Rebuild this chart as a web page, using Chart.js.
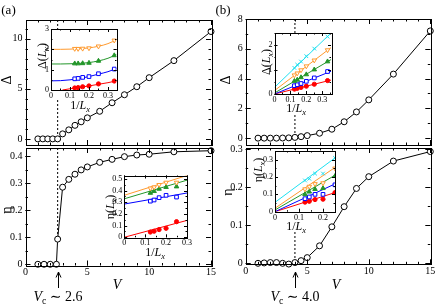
<!DOCTYPE html>
<html>
<head>
<meta charset="utf-8">
<script src="https://cdn.jsdelivr.net/npm/chart.js@4.4.1/dist/chart.umd.min.js"></script>
<style>
  html, body { margin: 0; padding: 0; background: #fff; }
  #fig { position: relative; width: 436px; height: 305px; overflow: hidden; background: #fff; }
  #fig canvas { position: absolute; }
  .lb { position: absolute; font-family: "Liberation Serif", "DejaVu Serif", serif; color: #000; line-height: 1; white-space: nowrap; transform: translate(-50%, -50%); }
  .lb.rot { transform: translate(-50%, -50%) rotate(-90deg); }
  .lb.bg { background: #fff; padding: 0 1px; }
  .lb sub { font-size: 70%; vertical-align: -0.3em; line-height: 0; }
</style>
</head>
<body>
<div id="fig"></div>
<script>
// ---- panel (a), V_c ~ 2.6 ----
const aDeltaV = [1, 1.4, 1.8, 2.2, 2.6, 3, 3.5, 4, 4.5, 5, 6, 7, 8, 9, 10, 12, 15];
const aDelta  = [0, 0, 0, 0, 0, 0.5, 0.9, 1.35, 1.7, 2.1, 2.75, 3.6, 4.4, 5.2, 6.1, 7.8, 10.7];
const aEtaV   = [1, 1.5, 2, 2.5, 2.6, 3, 3.5, 4, 4.5, 5, 6, 7, 8, 9, 10, 12, 15];
const aEta    = [0, 0, 0, 0, 0.093, 0.285, 0.314, 0.333, 0.349, 0.36, 0.377, 0.388, 0.398, 0.404, 0.407, 0.416, 0.42];
const vcA = 2.6;

// ---- panel (b), V_c ~ 4.0 ----
const bV     = [1, 1.5, 2, 2.5, 3, 3.5, 4, 4.5, 5, 6, 7, 8, 9, 10, 12, 15];
const bDelta = [0, 0, 0, 0, 0.01, 0.02, 0.05, 0.1, 0.17, 0.33, 0.6, 1.1, 1.76, 2.57, 4.3, 7.2];
const bEta   = [0, 0.001, 0.002, 0.002, 0, -0.002, 0.002, 0.007, 0.015, 0.046, 0.096, 0.149, 0.197, 0.228, 0.269, 0.294];
const vcB = 4.0;

// ---- insets, x = 1/L_x ----
const invL6 = [0.125, 0.1429, 0.1667, 0.2, 0.25, 0.3333];
const invL5 = [0.125, 0.1429, 0.1667, 0.2, 0.25];

// (a) Delta(L_x)
const aInDOrange = [2.03, 2.03, 2.04, 2.06, 2.15, 2.44];
const aInDGreen  = [1.3, 1.3, 1.31, 1.33, 1.43, 1.7];
const aInDBlue   = [0.55, 0.57, 0.62, 0.66, 0.8, 1.03];
const aInDRed    = [0.1, 0.12, 0.16, 0.2, 0.3, 0.44];
const aFitX      = [0, 0.05, 0.1, 0.15, 0.2, 0.25, 0.3, 0.345];
const aFitOrange = [2.0, 2.0, 2.01, 2.03, 2.07, 2.15, 2.28, 2.47];
const aFitGreen  = [1.28, 1.28, 1.29, 1.31, 1.35, 1.43, 1.56, 1.74];
const aFitBlue   = [0.45, 0.46, 0.5, 0.57, 0.66, 0.78, 0.9, 1.06];
const aFitRedX   = [0.06, 0.1, 0.15, 0.2, 0.25, 0.3, 0.345];
const aFitRed    = [0, 0.06, 0.13, 0.2, 0.28, 0.36, 0.45];

// (a) eta(L_x)
const aInEOrange = [0.42, 0.43, 0.45, 0.47, 0.47];
const aInEGreen  = [0.38, 0.395, 0.415, 0.43, 0.435];
const aInEBlue   = [0.31, 0.32, 0.34, 0.36, 0.345];
const aInERed    = [0.045, 0.052, 0.066, 0.077, 0.134];
const aLineEX    = [0, 0.3];
const aLineEOrange = [0.36, 0.53];
const aLineEGreen  = [0.33, 0.49];
const aLineEBlue   = [0.285, 0.38];
const aLineERed    = [0, 0.145];

// (b) Delta(L_x)
const bInDCyan   = [1.07, 1.2, 1.33, 1.55, 1.86, 2.35];
const bInDOrange = [0.77, 0.85, 0.98, 1.14, 1.38, 1.8];
const bInDGreen  = [0.53, 0.58, 0.68, 0.8, 1.0, 1.33];
const bInDBlue   = [0.34, 0.38, 0.43, 0.52, 0.66, 0.92];
const bInDRed    = [0.2, 0.23, 0.27, 0.32, 0.4, 0.55];
const bLineDX      = [0, 0.355];
const bLineDCyan   = [0.27, 2.5];
const bLineDOrange = [0.14, 1.9];
const bLineDGreen  = [0.04, 1.41];
const bLineDBlue   = [0, 0.93];
const bLineDRed    = [0, 0.57];

// (b) eta(L_x)
const bInECyan   = [0.18, 0.19, 0.22, 0.22, 0.31];
const bInEOrange = [0.13, 0.145, 0.16, 0.165, 0.25];
const bInEGreen  = [0.1, 0.115, 0.13, 0.135, 0.205];
const bInEBlue   = [0.075, 0.085, 0.1, 0.1, 0.155];
const bInERed    = [0.055, 0.06, 0.07, 0.072, 0.11];
const bLineEX      = [0, 0.25];
const bLineECyan   = [0.054, 0.31];
const bLineEOrange = [0.02, 0.255];
const bLineEGreen  = [0.01, 0.21];
const bLineEBlue   = [0, 0.16];
const bLineERed    = [0, 0.11];

// tick labels
const vTicks = [0, 5, 10, 15];
const aDeltaTicks = [0, 5, 10];
const aEtaTicks = [0, 0.1, 0.2, 0.3, 0.4];
const bDeltaTicks = [0, 2, 4, 6, 8];
const bEtaTicks = [0, 0.1, 0.2, 0.3];
const inXTicks = [0, 0.1, 0.2, 0.3];
const inXTicksShort = [0, 0.1, 0.2];
const aInDTicks = [0, 1, 2, 3];
const aInETicks = [0, 0.1, 0.2, 0.3, 0.4, 0.5];
const bInDTicks = [0, 1, 2];
const bInETicks = [0, 0.1, 0.2, 0.3];

const SERIF = '"Liberation Serif", "DejaVu Serif", serif';
const ORANGE = '#ff9a2e', GREEN = '#23962a', BLUE = '#0000ff', RED = '#ff0000', CYAN = '#1fe0f0';
const fig = document.getElementById('fig');

// closed frame with inward major/minor ticks on all four sides
const frameTicks = {
  id: 'frameTicks',
  beforeDraw(chart, args, o) {
    if (!o.bg) return;
    const a = chart.chartArea, ctx = chart.ctx;
    ctx.save();
    ctx.fillStyle = '#fff';
    ctx.fillRect(a.left, a.top, a.right - a.left, a.bottom - a.top + o.bg);
    ctx.restore();
  },
  afterDraw(chart, args, o) {
    const {ctx, chartArea: a} = chart;
    const {x, y} = chart.scales;
    ctx.save();
    ctx.strokeStyle = '#000';
    ctx.lineWidth = 1;
    ctx.beginPath();
    const marks = (sc, step, len, horiz) => {
      const n0 = Math.ceil(sc.min / step - 1e-6), n1 = Math.floor(sc.max / step + 1e-6);
      for (let i = n0; i <= n1; i++) {
        const p = Math.round(sc.getPixelForValue(i * step)) + 0.5;
        if (horiz) {
          ctx.moveTo(p, a.bottom); ctx.lineTo(p, a.bottom - len);
          ctx.moveTo(p, a.top); ctx.lineTo(p, a.top + len);
        } else {
          ctx.moveTo(a.left, p); ctx.lineTo(a.left + len, p);
          ctx.moveTo(a.right, p); ctx.lineTo(a.right - len, p);
        }
      }
    };
    marks(x, o.x[0], o.len, true);
    marks(x, o.x[1], o.len / 2, true);
    marks(y, o.y[0], o.len, false);
    marks(y, o.y[1], o.len / 2, false);
    ctx.stroke();
    ctx.strokeRect(Math.round(a.left) + 0.5, Math.round(a.top) + 0.5,
                   Math.round(a.right - a.left), Math.round(a.bottom - a.top));
    ctx.restore();
  }
};

const pts = (xs, ys) => xs.map((x, i) => ({x, y: ys[i]}));
const series = (xs, ys) => ({
  data: pts(xs, ys), showLine: true, borderColor: '#000', borderWidth: 1, clip: false,
  pointRadius: 3, pointBorderWidth: 1, pointBackgroundColor: '#fff', pointBorderColor: '#000'
});
const vline = (x, y0, y1) => ({
  data: [{x, y: y0}, {x, y: y1}], showLine: true, borderColor: '#000', borderWidth: 1,
  borderDash: [2, 2], pointRadius: 0
});
const fit = (xs, ys, col) => ({
  data: pts(xs, ys), showLine: true, borderColor: col, borderWidth: 1, pointRadius: 0,
  cubicInterpolationMode: 'monotone'
});
const sym = (xs, ys, col, style, open) => ({
  data: pts(xs, ys), showLine: false, pointStyle: style, pointRotation: open && style === 'triangle' ? 180 : 0,
  pointRadius: style === 'circle' ? 2.1 : 2.6, pointBorderWidth: 1, pointBorderColor: col,
  pointBackgroundColor: open ? '#fff' : col
});

// box = [x, y, w, h] of the canvas, area = [left, top, right, bottom] of the plot frame (page px)
function panel(box, area, cfg) {
  const c = document.createElement('canvas');
  c.width = box[2]; c.height = box[3];
  c.style.left = box[0] + 'px'; c.style.top = box[1] + 'px';
  fig.appendChild(c);
  const showX = !!cfg.xTicks;
  const fs = cfg.font || 10;
  const tickFont = {family: SERIF, size: fs};
  return new Chart(c, {
    type: 'scatter',
    data: {datasets: cfg.datasets},
    options: {
      responsive: false, animation: false, events: [],
      layout: {padding: {
        left: 0, top: area[1] - box[1], right: box[0] + box[2] - area[2],
        bottom: showX ? 0 : box[1] + box[3] - area[3]
      }},
      plugins: {
        legend: {display: false}, tooltip: {enabled: false},
        frameTicks: {x: cfg.xStep, y: cfg.yStep, len: cfg.len, bg: cfg.bg || 0}
      },
      scales: {
        x: {
          type: 'linear', min: cfg.xRange[0], max: cfg.xRange[1], display: showX,
          grid: {display: false, drawTicks: false}, border: {display: false},
          ticks: {font: tickFont, color: '#000', padding: 1, maxRotation: 0, autoSkip: false, callback: v => String(v)},
          afterBuildTicks: s => { if (showX) s.ticks = cfg.xTicks.map(v => ({value: v})); },
          afterFit: s => { s.height = box[1] + box[3] - area[3]; s.paddingLeft = 0; s.paddingRight = 0; }
        },
        y: {
          type: 'linear', min: cfg.yRange[0], max: cfg.yRange[1],
          grid: {display: false, drawTicks: false}, border: {display: false},
          ticks: {font: tickFont, color: '#000', padding: cfg.ypad || 3, autoSkip: false, callback: v => String(v)},
          afterBuildTicks: s => { s.ticks = cfg.yTicks.map(v => ({value: v})); },
          afterFit: s => { s.width = area[0] - box[0]; s.paddingTop = 0; s.paddingBottom = 0; }
        }
      }
    },
    plugins: [frameTicks]
  });
}

// main panels
const aDeltaRange = [-0.61, 11.85], aEtaRange = [-0.0045, 0.43];
const bDeltaRange = [-0.46, 8], bEtaRange = [-0.0026, 0.3034];

panel([0, 0, 216, 150], [25.5, 20, 211, 148], {
  xRange: [0, 15], yRange: aDeltaRange, yTicks: aDeltaTicks,
  xStep: [5, 1], yStep: [5, 1], len: 5,
  datasets: [series(aDeltaV, aDelta), vline(vcA, aDeltaRange[1], 0)]
});
const chartAE = panel([0, 140, 216, 142], [25.5, 148, 211, 265.5], {
  xRange: [0, 15], yRange: aEtaRange, yTicks: aEtaTicks, xTicks: vTicks,
  xStep: [5, 1], yStep: [0.1, 0.05], len: 5,
  datasets: [series(aEtaV, aEta), vline(vcA, aEtaRange[1], aEta[aEtaV.indexOf(vcA)])]
});
panel([218, 0, 218, 150], [245.7, 19, 430.3, 148], {
  xRange: [0, 15], yRange: bDeltaRange, yTicks: bDeltaTicks,
  xStep: [5, 1], yStep: [2, 1], len: 5,
  datasets: [series(bV, bDelta), vline(vcB, bDeltaRange[1], 0)]
});
const chartBE = panel([218, 140, 218, 142], [245.7, 148, 430.3, 264.3], {
  xRange: [0, 15], yRange: bEtaRange, yTicks: bEtaTicks, xTicks: vTicks,
  xStep: [5, 1], yStep: [0.1, 0.05], len: 5,
  datasets: [series(bV, bEta), vline(vcB, bEtaRange[1], bEta[bV.indexOf(vcB)])]
});

// insets
panel([40, 24, 82, 74], [51, 29, 116.5, 90], {
  xRange: [0, 0.345], yRange: [0, 3], xTicks: inXTicks, yTicks: aInDTicks,
  xStep: [0.1, 0.05], yStep: [1, 0.5], len: 3, font: 8, ypad: 2, bg: 9,
  datasets: [
    sym(invL6, aInDOrange, ORANGE, 'triangle', true), sym(invL6, aInDGreen, GREEN, 'triangle', false),
    sym(invL6, aInDBlue, BLUE, 'rect', true), sym(invL6, aInDRed, RED, 'circle', false),
    fit(aFitX, aFitOrange, ORANGE), fit(aFitX, aFitGreen, GREEN),
    fit(aFitX, aFitBlue, BLUE), fit(aFitRedX, aFitRed, RED)
  ]
});
panel([112, 170, 80, 76], [124.2, 175.5, 187.5, 237.3], {
  xRange: [0, 0.3], yRange: [0, 0.53], xTicks: inXTicks, yTicks: aInETicks,
  xStep: [0.1, 0.05], yStep: [0.1, 0.05], len: 3, font: 8, ypad: 2, bg: 9,
  datasets: [
    sym(invL5, aInEOrange, ORANGE, 'triangle', true), sym(invL5, aInEGreen, GREEN, 'triangle', false),
    sym(invL5, aInEBlue, BLUE, 'rect', true), sym(invL5, aInERed, RED, 'circle', false),
    fit(aLineEX, aLineEOrange, ORANGE), fit(aLineEX, aLineEGreen, GREEN),
    fit(aLineEX, aLineEBlue, BLUE), fit(aLineEX, aLineERed, RED)
  ]
});
panel([262, 28, 74, 76], [274.5, 32.8, 331.5, 94], {
  xRange: [0, 0.355], yRange: [0, 2.5], xTicks: inXTicks, yTicks: bInDTicks,
  xStep: [0.1, 0.05], yStep: [1, 0.5], len: 3, font: 8, ypad: 2, bg: 9,
  datasets: [
    sym(invL6, bInDCyan, CYAN, 'crossRot', false),
    sym(invL6, bInDOrange, ORANGE, 'triangle', true), sym(invL6, bInDGreen, GREEN, 'triangle', false),
    sym(invL6, bInDBlue, BLUE, 'rect', true), sym(invL6, bInDRed, RED, 'circle', false),
    fit(bLineDX, bLineDCyan, CYAN), fit(bLineDX, bLineDOrange, ORANGE), fit(bLineDX, bLineDGreen, GREEN),
    fit(bLineDX, bLineDBlue, BLUE), fit(bLineDX, bLineDRed, RED)
  ]
});
panel([262, 146, 78, 76], [275, 151, 335, 211.7], {
  xRange: [0, 0.25], yRange: [0, 0.35], xTicks: inXTicksShort, yTicks: bInETicks,
  xStep: [0.1, 0.05], yStep: [0.1, 0.05], len: 3, font: 8, ypad: 2, bg: 9,
  datasets: [
    sym(invL5, bInECyan, CYAN, 'crossRot', false),
    sym(invL5, bInEOrange, ORANGE, 'triangle', true), sym(invL5, bInEGreen, GREEN, 'triangle', false),
    sym(invL5, bInEBlue, BLUE, 'rect', true), sym(invL5, bInERed, RED, 'circle', false),
    fit(bLineEX, bLineECyan, CYAN), fit(bLineEX, bLineEOrange, ORANGE), fit(bLineEX, bLineEGreen, GREEN),
    fit(bLineEX, bLineEBlue, BLUE), fit(bLineEX, bLineERed, RED)
  ]
});

// text labels
function label(html, cx, cy, size, cls) {
  const d = document.createElement('div');
  d.className = 'lb' + (cls ? ' ' + cls : '');
  d.style.left = cx + 'px'; d.style.top = cy + 'px'; d.style.fontSize = size + 'px';
  d.innerHTML = html;
  fig.appendChild(d);
}
const Lx = '<i>L<sub>x</sub></i>';
label('(a)', 8.5, 8.5, 13);
label('(b)', 223, 8.5, 13);
label('Δ', 7, 80, 14, 'rot');
label('η', 7, 210, 14, 'rot');
label('<i>V</i>', 117, 285, 14);
label('Δ', 226, 80, 14, 'rot');
label('η', 228, 192, 14, 'rot');
label('<i>V</i>', 336, 285, 14);
label('Δ(' + Lx + ')', 42, 56, 12, 'rot');
label('1/' + Lx, 80, 105, 12, 'bg');
label('η(' + Lx + ')', 110, 207, 12, 'rot');
label('1/' + Lx, 155, 251.5, 12);
label('Δ(' + Lx + ')', 265.5, 62, 12, 'rot');
label('1/' + Lx, 296, 108, 12, 'bg');
label('η(' + Lx + ')', 258, 170, 12, 'rot');
label('1/' + Lx, 296, 226, 12, 'bg');

// V_c arrows, placed from the bottom panels' x scales
const svgNS = 'http://www.w3.org/2000/svg';
const svg = document.createElementNS(svgNS, 'svg');
svg.setAttribute('width', 436); svg.setAttribute('height', 305);
svg.style.cssText = 'position:absolute;left:0;top:0';
fig.appendChild(svg);
function arrow(chart, offX, vc, text) {
  const x = Math.round(offX + chart.scales.x.getPixelForValue(vc)) + 0.5;
  const p = document.createElementNS(svgNS, 'path');
  p.setAttribute('d', `M${x} 288 L${x} 272 M${x - 2.5} 277.5 L${x} 272 L${x + 2.5} 277.5`);
  p.setAttribute('stroke', '#000'); p.setAttribute('fill', 'none'); p.setAttribute('stroke-width', 1);
  svg.appendChild(p);
  label('<i>V</i><sub>c</sub> ∼ ' + text, x - 0.5, 297, 14);
}
arrow(chartAE, 0, vcA, vcA.toFixed(1));
arrow(chartBE, 218, vcB, vcB.toFixed(1));
</script>
</body>
</html>
